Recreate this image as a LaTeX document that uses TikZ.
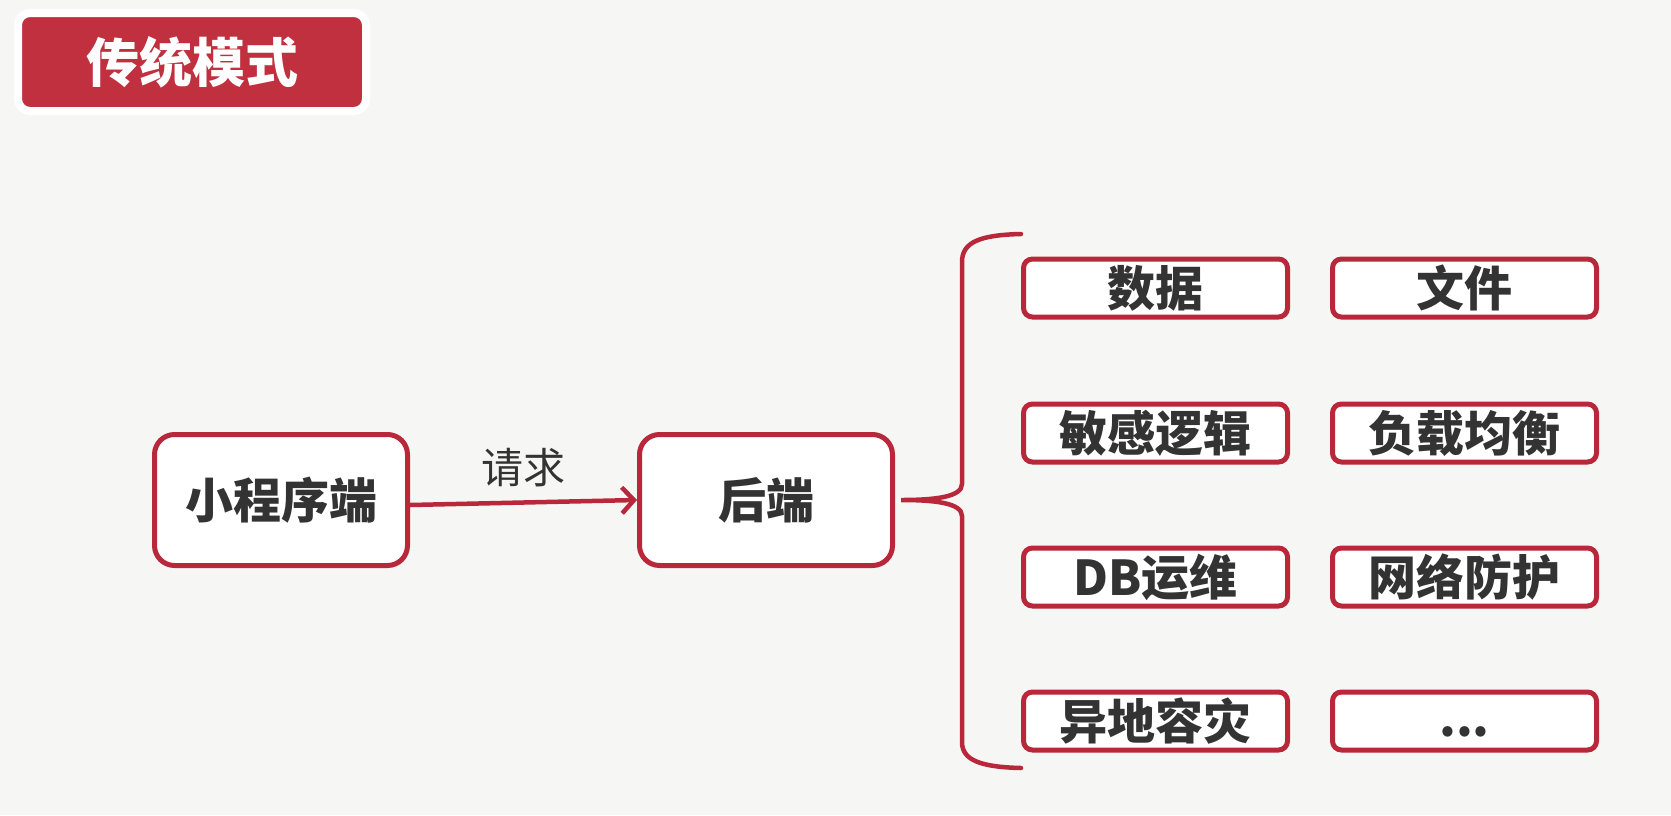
\documentclass[tikz,border=0pt]{standalone}
\usepackage{fontspec}
\newfontfamily\cjk{Noto Sans CJK SC}
\newfontfamily\cjkheavy{Noto Sans CJK SC Black}
\usetikzlibrary{shadows,arrows.meta}
\definecolor{bg}{HTML}{F6F7F5}
\definecolor{myred}{HTML}{B8283A}
\definecolor{titlered}{HTML}{C0303F}
\definecolor{txt}{HTML}{333333}
\tikzset{
  boxbase/.style={draw=myred, line width=5pt, fill=white, text=txt,
    font=\cjkheavy\fontsize{48}{48}\selectfont, inner sep=0pt,
    drop shadow={shadow xshift=2pt, shadow yshift=-2pt, opacity=0.18}},
  bigbox/.style={boxbase, rounded corners=20pt, minimum width=253pt, minimum height=131pt},
  smallbox/.style={boxbase, rounded corners=9pt, minimum width=264pt, minimum height=58pt},
  titlebox/.style={draw=white, line width=8pt, fill=titlered, text=white, rounded corners=12pt,
    font=\cjkheavy\fontsize{53}{53}\selectfont, minimum width=348pt, minimum height=98pt,
    drop shadow={shadow xshift=2pt, shadow yshift=-3pt, opacity=0.2}},
  link/.style={draw=myred, line width=4.5pt, -{Straight Barb[length=12pt,width=26pt]}},
  bracepath/.style={draw=myred, line width=4.5pt, line cap=round},
  lbl/.style={text=txt, font=\cjk\fontsize{42}{42}\selectfont}
}
\begin{document}
\begin{tikzpicture}[x=1pt,y=-1pt]
\fill[bg] (0,0) rectangle (1671,815);
\useasboundingbox (0,0) rectangle (1671,815);

\node[titlebox] (title) at (192,62) {传统模式};

\node[bigbox] (app) at (281,500) {小程序端};
\node[bigbox] (back) at (766,500) {后端};

\draw[link] ([yshift=-5pt]app.east) -- node[lbl, above=10pt] (req) {请求} (back.west);

\node[smallbox] (d1) at (1155.5,288) {数据};
\node[smallbox] (d2) at (1464.5,288) {文件};
\node[smallbox] (d3) at (1155.5,433) {敏感逻辑};
\node[smallbox] (d4) at (1464.5,433) {负载均衡};
\node[smallbox] (d5) at (1155.5,577) {DB运维};
\node[smallbox] (d6) at (1464.5,577) {网络防护};
\node[smallbox] (d7) at (1155.5,721) {异地容灾};
\node[smallbox] (d8) at (1464.5,721) {\smash{\raisebox{-15pt}{...}}};

\coordinate (tip) at ([xshift=6pt]back.east);
\coordinate (btop) at (1021,234);
\coordinate (bbot) at (1021,768);
\draw[bracepath] (btop) .. controls (980,235) and (962,242) .. (962,262)
  -- (962,484) .. controls (962,497) and (935,500) .. (tip)
  .. controls (935,500) and (962,503) .. (962,516)
  -- (962,742) .. controls (962,760) and (980,767) .. (bbot);
\end{tikzpicture}
\end{document}
